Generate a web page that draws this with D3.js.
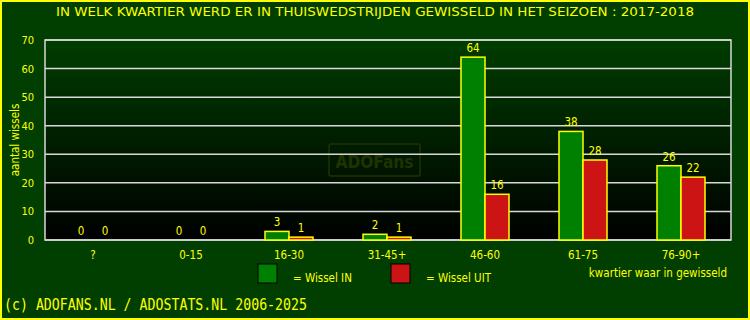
<!DOCTYPE html>
<html>
<head>
<meta charset="utf-8">
<script src="https://cdn.jsdelivr.net/npm/d3@7"></script>
<style>
  body { margin: 0; background: #000; }
  svg { display: block; }
  text { font-family: "DejaVu Sans Condensed", "DejaVu Sans", sans-serif; fill: #ffff00; }
</style>
</head>
<body>
<div id="chart"></div>
<script>
// data
var categories = ["?", "0-15", "16-30", "31-45+", "46-60", "61-75", "76-90+"];
var wisselIn = [0, 0, 3, 2, 64, 38, 26];
var wisselUit = [0, 0, 1, 1, 16, 28, 22];
var yTicks = [0, 10, 20, 30, 40, 50, 60, 70];

var W = 750, H = 320;
var margin = { top: 40, right: 19, bottom: 80, left: 45 },
  width = W - margin.left - margin.right,
  height = H - margin.top - margin.bottom;

var svg = d3.select("#chart")
  .append("svg")
  .attr("width", W)
  .attr("height", H);

// background + yellow border
svg.append("rect")
  .attr("x", 1).attr("y", 1)
  .attr("width", W - 2).attr("height", H - 2)
  .style("fill", "#003f00")
  .style("stroke", "#ffff00")
  .style("stroke-width", 2);

var defs = svg.append("defs");
var grad = defs.append("linearGradient")
  .attr("id", "plotbg")
  .attr("x1", 0).attr("y1", 0).attr("x2", 0).attr("y2", 1);
grad.append("stop").attr("offset", "0%").attr("stop-color", "#003d00");
grad.append("stop").attr("offset", "100%").attr("stop-color", "#000000");

// title
svg.append("text")
  .attr("x", W / 2)
  .attr("y", 16)
  .attr("text-anchor", "middle")
  .attr("textLength", 638)
  .attr("lengthAdjust", "spacingAndGlyphs")
  .style("font-size", "13px")
  .text("IN WELK KWARTIER WERD ER IN THUISWEDSTRIJDEN GEWISSELD IN HET SEIZOEN : 2017-2018");

var g = svg.append("g")
  .attr("transform", "translate(" + margin.left + "," + margin.top + ")");

g.append("rect")
  .attr("width", width)
  .attr("height", height)
  .style("fill", "url(#plotbg)");

///////////////////////////////////////////////////////////////
// scales
var x = d3.scaleBand()
  .domain(categories)
  .range([-1, width - 1]);

var y = d3.scaleLinear()
  .domain([0, 70])
  .range([height, 0]);

var barW = 24;

// watermark (under the grid)
var wm = g.append("g").attr("transform", "translate(" + (329 - margin.left) + "," + (144 - margin.top) + ")");
wm.append("rect")
  .attr("width", 91).attr("height", 32).attr("rx", 2)
  .style("fill", "none")
  .style("stroke", "#203200")
  .style("stroke-width", 1.5);
wm.append("text")
  .attr("x", 45.5).attr("y", 24)
  .attr("text-anchor", "middle")
  .style("font-family", "'DejaVu Sans Condensed', sans-serif")
  .style("font-weight", "bold")
  .style("font-size", "18px")
  .attr("textLength", 78)
  .attr("lengthAdjust", "spacingAndGlyphs")
  .style("fill", "#203200")
  .text("ADOFans");

// grid lines
g.selectAll("line.grid")
  .data(yTicks)
  .enter()
  .append("line")
  .attr("class", "grid")
  .attr("x1", 0)
  .attr("x2", width)
  .attr("y1", function (d) { return y(d); })
  .attr("y2", function (d) { return y(d); })
  .style("stroke", "#d8d8d8")
  .style("stroke-width", 1.5);

// plot frame
g.append("rect")
  .attr("width", width)
  .attr("height", height)
  .style("fill", "none")
  .style("stroke", "#d8d8d8")
  .style("stroke-width", 1.5);

// y axis labels
var yAxis = g.append("g")
  .call(d3.axisLeft(y).tickValues(yTicks).tickSize(0).tickPadding(11));
yAxis.select(".domain").remove();
yAxis.selectAll("text")
  .style("font-family", "'DejaVu Sans Condensed', sans-serif")
  .style("font-size", "11px")
  .style("fill", "#ffff00");

// x axis labels
var xAxis = g.append("g")
  .attr("transform", "translate(0," + height + ")")
  .call(d3.axisBottom(x).tickSize(0).tickPadding(11));
xAxis.select(".domain").remove();
xAxis.selectAll("text")
  .style("font-family", "'DejaVu Sans Condensed', sans-serif")
  .style("font-size", "11.5px")
  .style("fill", "#ffff00");

// y axis title
svg.append("text")
  .attr("transform", "translate(19,140) rotate(-90)")
  .attr("text-anchor", "middle")
  .style("font-size", "11.5px")
  .text("aantal wissels");

///////////////////////////////////////////////////////////////
// bars
function center(c) { return x(c) + x.bandwidth() / 2; }

g.selectAll("rect.in")
  .data(categories)
  .enter()
  .filter(function (d, i) { return wisselIn[i] > 0; })
  .append("rect")
  .attr("class", "in")
  .attr("x", function (d) { return center(d) - barW; })
  .attr("y", function (d) { return y(wisselIn[categories.indexOf(d)]); })
  .attr("width", barW)
  .attr("height", function (d) { return height - y(wisselIn[categories.indexOf(d)]); })
  .style("fill", "#008000")
  .style("stroke", "#ffff00")
  .style("stroke-width", 1.5);

g.selectAll("rect.uit")
  .data(categories)
  .enter()
  .filter(function (d, i) { return wisselUit[i] > 0; })
  .append("rect")
  .attr("class", "uit")
  .attr("x", function (d) { return center(d); })
  .attr("y", function (d) { return y(wisselUit[categories.indexOf(d)]); })
  .attr("width", barW)
  .attr("height", function (d) { return height - y(wisselUit[categories.indexOf(d)]); })
  .style("fill", "#cc1414")
  .style("stroke", "#ffff00")
  .style("stroke-width", 1.5);

// value labels
g.selectAll("text.vin")
  .data(categories)
  .enter()
  .append("text")
  .attr("x", function (d) { return center(d) - barW / 2; })
  .attr("y", function (d, i) { return y(wisselIn[i]) - 5; })
  .attr("text-anchor", "middle")
  .style("font-size", "11.5px")
  .text(function (d, i) { return wisselIn[i]; });

g.selectAll("text.vuit")
  .data(categories)
  .enter()
  .append("text")
  .attr("x", function (d) { return center(d) + barW / 2; })
  .attr("y", function (d, i) { return y(wisselUit[i]) - 5; })
  .attr("text-anchor", "middle")
  .style("font-size", "11.5px")
  .text(function (d, i) { return wisselUit[i]; });

///////////////////////////////////////////////////////////////
// legend
var legend = [
  { label: "=  Wissel IN", color: "#008000", x: 258 },
  { label: "=  Wissel UIT", color: "#cc1414", x: 391 }
];
legend.forEach(function (l) {
  svg.append("rect")
    .attr("x", l.x).attr("y", 264)
    .attr("width", 19).attr("height", 19)
    .style("fill", l.color)
    .style("stroke", "#000")
    .style("stroke-width", 1);
  svg.append("text")
    .attr("x", l.x + 35).attr("y", 282)
    .style("font-size", "11.5px")
    .text(l.label);
});

svg.append("text")
  .attr("x", 727).attr("y", 277)
  .attr("text-anchor", "end")
  .style("font-size", "11.5px")
  .text("kwartier waar in gewisseld");

// footer
svg.append("text")
  .attr("transform", "translate(4,310) scale(1,1.25)")
  .attr("textLength", 303)
  .attr("lengthAdjust", "spacingAndGlyphs")
  .style("font-family", "'DejaVu Sans Mono', monospace")
  .style("font-size", "13px")
  .text("(c) ADOFANS.NL / ADOSTATS.NL 2006-2025");
</script>
</body>
</html>
